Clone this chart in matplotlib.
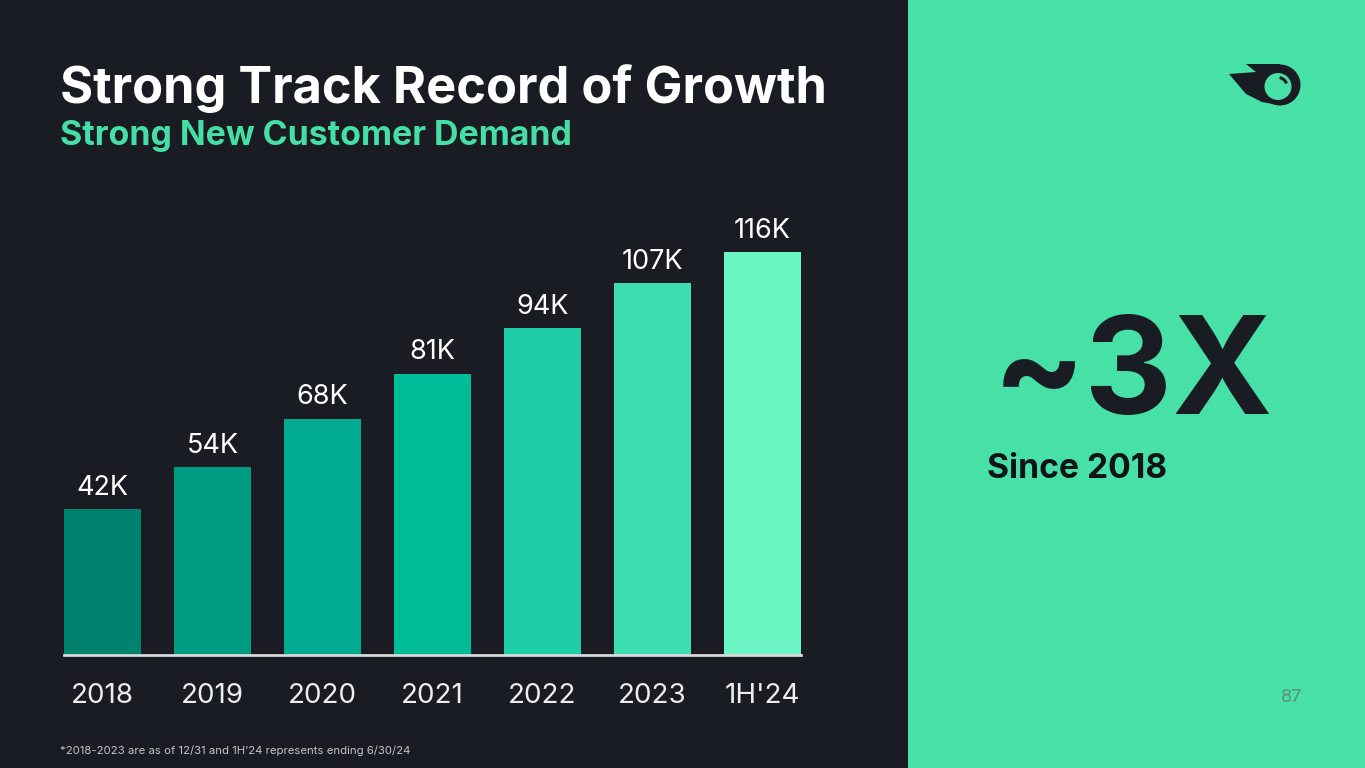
import matplotlib
matplotlib.use('Agg')

import matplotlib.pyplot as plt
from matplotlib.patches import Rectangle, Circle, Polygon, Arc

# data
categories = ["2018", "2019", "2020", "2021", "2022", "2023", "1H'24"]
customers_k = [42, 54, 68, 81, 94, 107, 116]
bar_colors = ["#00826F", "#009B83", "#00AB8F", "#00BC98", "#1FCEA6", "#3CDDB0", "#6AF5C3"]

DARK = "#1A1C24"
GREEN = "#47E1A8"
FONT = "Inter"

W, H = 1365, 768
fig = plt.figure(figsize=(W / 100, H / 100), dpi=100)
fig.patch.set_facecolor(DARK)

# background layer in pixel coords
bg = fig.add_axes([0, 0, 1, 1], zorder=0)
bg.set_xlim(0, W)
bg.set_ylim(H, 0)
bg.axis("off")
bg.add_patch(Rectangle((908, 0), W - 908, H, color=GREEN, lw=0))

# logo
bg.add_patch(Polygon([(1246, 64), (1280, 64), (1278, 105), (1262, 102),
                      (1246, 94), (1229, 74), (1256, 72)],
                     closed=True, color=DARK, lw=0))
bg.add_patch(Circle((1280, 85), 20.5, color=DARK, lw=0))
bg.add_patch(Circle((1278, 86.5), 13.5, color=GREEN, lw=0))
bg.add_patch(Arc((1278, 86.5), 18, 18, angle=0, theta1=-80, theta2=-20,
                 color=DARK, lw=2.2))

# bar chart
ax = fig.add_axes([64 / W, (H - 655) / H, 737 / W, 403 / H], zorder=1)
ax.set_facecolor("none")
x = range(len(categories))
bars = ax.bar(x, customers_k, width=0.7, color=bar_colors, lw=0)
ax.set_xlim(-0.35, len(categories) - 0.65)
ax.set_ylim(0, max(customers_k))
for b, v in zip(bars, customers_k):
    ax.annotate(f"{v}K", (b.get_x() + b.get_width() / 2, b.get_height()),
                xytext=(0, 6), textcoords="offset points", ha="center", va="bottom",
                fontsize=19.5, color="white", family=FONT, annotation_clip=False)
for s in ["top", "right", "left"]:
    ax.spines[s].set_visible(False)
ax.spines["bottom"].set_color("#D8D8D8")
ax.spines["bottom"].set_linewidth(2)
ax.set_yticks([])
ax.set_xticks(list(x))
ax.set_xticklabels(categories, fontsize=20, color="#EDEDED", family=FONT)
ax.tick_params(axis="x", length=0, pad=20.5)

# texts
fig.text(60 / W, 1 - 103 / H, "Strong Track Record of Growth", fontsize=36.4,
         fontweight="bold", color="white", family=FONT, va="baseline")
fig.text(60 / W, 1 - 145 / H, "Strong New Customer Demand", fontsize=24.4,
         fontweight="bold", color="#45DFA6", family=FONT, va="baseline")
fig.text(993 / W, 1 - 414 / H, "~3X", fontsize=98, fontweight="bold",
         color=DARK, family=FONT, va="baseline")
fig.text(987 / W, 1 - 478 / H, "Since 2018", fontsize=24.2, fontweight="bold",
         color="#111318", family=FONT, va="baseline")
fig.text(1302 / W, 1 - 697 / H, "87", fontsize=13, color="#5A8F7A",
         family=FONT, va="center", ha="right")
fig.text(60 / W, 1 - 751 / H,
         "*2018-2023 are as of 12/31 and 1H\u201924 represents ending 6/30/24",
         fontsize=8.2, color="#C4C4C4", family=FONT, va="center")

fig.savefig("out.png", dpi=100, facecolor=fig.get_facecolor())
